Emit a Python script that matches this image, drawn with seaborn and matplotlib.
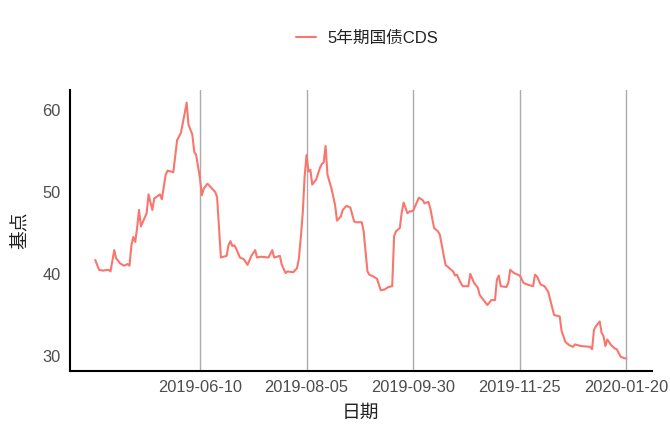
import matplotlib
matplotlib.use('Agg')
import matplotlib.pyplot as plt
import matplotlib.dates as mdates
import numpy as np
import pandas as pd
import seaborn as sns

# 5年期国债CDS (basis points)
dates = [
    '2019-04-16', '2019-04-18', '2019-04-20', '2019-04-23', '2019-04-24', '2019-04-26', '2019-04-27',
    '2019-04-29', '2019-05-01', '2019-05-03', '2019-05-04', '2019-05-05', '2019-05-06', '2019-05-07',
    '2019-05-08', '2019-05-09', '2019-05-10', '2019-05-13', '2019-05-14', '2019-05-16', '2019-05-17',
    '2019-05-20', '2019-05-21', '2019-05-23', '2019-05-24', '2019-05-27', '2019-05-29', '2019-05-31',
    '2019-06-02', '2019-06-03', '2019-06-04', '2019-06-06', '2019-06-07', '2019-06-08', '2019-06-10',
    '2019-06-11', '2019-06-12', '2019-06-14', '2019-06-18', '2019-06-19', '2019-06-21', '2019-06-24',
    '2019-06-25', '2019-06-26', '2019-06-27', '2019-06-28', '2019-06-29', '2019-07-01', '2019-07-03',
    '2019-07-05', '2019-07-07', '2019-07-09', '2019-07-10', '2019-07-12', '2019-07-16', '2019-07-18',
    '2019-07-19', '2019-07-22', '2019-07-23', '2019-07-25', '2019-07-26', '2019-07-29', '2019-07-31',
    '2019-08-01', '2019-08-02', '2019-08-03', '2019-08-04', '2019-08-05', '2019-08-06', '2019-08-07',
    '2019-08-08', '2019-08-10', '2019-08-12', '2019-08-13', '2019-08-14', '2019-08-15', '2019-08-16',
    '2019-08-18', '2019-08-20', '2019-08-21', '2019-08-23', '2019-08-24', '2019-08-26', '2019-08-28',
    '2019-08-30', '2019-08-31', '2019-09-03', '2019-09-04', '2019-09-06', '2019-09-07', '2019-09-09',
    '2019-09-11', '2019-09-13', '2019-09-15', '2019-09-17', '2019-09-19', '2019-09-20', '2019-09-21',
    '2019-09-23', '2019-09-24', '2019-09-25', '2019-09-27', '2019-09-28', '2019-09-30', '2019-10-03',
    '2019-10-05', '2019-10-06', '2019-10-08', '2019-10-09', '2019-10-11', '2019-10-13', '2019-10-14',
    '2019-10-17', '2019-10-19', '2019-10-21', '2019-10-22', '2019-10-23', '2019-10-25', '2019-10-26',
    '2019-10-29', '2019-10-30', '2019-11-01', '2019-11-03', '2019-11-04', '2019-11-08', '2019-11-10',
    '2019-11-12', '2019-11-13', '2019-11-14', '2019-11-15', '2019-11-18', '2019-11-19', '2019-11-20',
    '2019-11-22', '2019-11-25', '2019-11-27', '2019-11-29', '2019-12-02', '2019-12-03', '2019-12-04',
    '2019-12-06', '2019-12-08', '2019-12-10', '2019-12-13', '2019-12-16', '2019-12-17', '2019-12-19',
    '2019-12-21', '2019-12-23', '2019-12-24', '2019-12-27', '2020-01-01', '2020-01-02', '2020-01-03',
    '2020-01-04', '2020-01-06', '2020-01-07', '2020-01-08', '2020-01-09', '2020-01-10', '2020-01-12',
    '2020-01-14', '2020-01-15', '2020-01-17', '2020-01-19', '2020-01-20',
]
cds = [
    41.7, 40.5, 40.4, 40.5, 40.3, 42.9, 41.9,
    41.3, 41.0, 41.2, 41.0, 43.5, 44.5, 43.9,
    45.6, 47.8, 45.8, 47.4, 49.7, 47.8, 49.2,
    49.7, 49.1, 52.1, 52.6, 52.4, 56.3, 57.2,
    59.6, 60.9, 58.2, 57.0, 54.9, 54.5, 51.7,
    49.6, 50.4, 51.0, 50.0, 49.4, 42.0, 42.2,
    43.5, 44.0, 43.4, 43.5, 43.1, 42.0, 41.8,
    41.1, 42.2, 42.9, 42.0, 42.1, 42.0, 42.9,
    42.0, 42.2, 41.1, 40.1, 40.3, 40.2, 40.7,
    41.9, 44.5, 47.4, 51.9, 54.5, 52.5, 52.7,
    50.9, 51.5, 52.9, 53.4, 53.6, 55.6, 52.1,
    50.5, 48.4, 46.5, 47.0, 47.8, 48.3, 48.1,
    46.4, 46.3, 46.3, 45.2, 40.3, 39.9, 39.7,
    39.4, 38.0, 38.1, 38.4, 38.5, 44.6, 45.2,
    45.6, 47.5, 48.7, 47.4, 47.6, 47.7, 49.3,
    49.0, 48.6, 48.8, 48.0, 45.6, 45.2, 44.8,
    41.1, 40.7, 40.3, 39.8, 39.9, 38.9, 38.5,
    38.5, 40.0, 38.9, 38.3, 37.4, 36.2, 36.8,
    36.8, 39.3, 39.8, 38.5, 38.4, 38.9, 40.5,
    40.1, 39.8, 38.9, 38.7, 38.5, 39.9, 39.7,
    38.7, 38.5, 37.8, 35.0, 34.8, 33.0, 31.7,
    31.3, 31.1, 31.4, 31.2, 31.1, 30.8, 33.2,
    33.6, 34.2, 32.8, 32.4, 31.2, 32.0, 31.3,
    30.9, 30.8, 29.9, 29.7, 29.7,
]
x_ticks = ['2019-06-10', '2019-08-05', '2019-09-30', '2019-11-25', '2020-01-20']
series_name = '5年期国债CDS'

df = pd.DataFrame({'日期': pd.to_datetime(dates), '基点': cds})

sns.set_style('white')
plt.rcParams['font.family'] = ['Liberation Sans', 'Noto Sans CJK SC', 'DejaVu Sans']

fig = plt.figure(figsize=(6.7, 4.26), dpi=100)
ax = fig.add_axes([0.1045, 0.130, 0.868, 0.659])

sns.lineplot(data=df, x='日期', y='基点', color='#F8766D', linewidth=1.5,
             label=series_name, ax=ax)

ax.set_xlim(pd.Timestamp('2019-04-02 18:00'), pd.Timestamp('2020-02-02 06:00'))
ax.set_ylim(28.2, 62.45)
ax.set_xticks(pd.to_datetime(x_ticks))
ax.xaxis.set_major_formatter(mdates.DateFormatter('%Y-%m-%d'))
ax.set_yticks([30, 40, 50, 60])

# vertical grid only, at the date ticks
ax.grid(axis='x', color='#ababab', linewidth=1.0)
ax.grid(axis='y', visible=False)
ax.set_axisbelow(True)

for side in ['top', 'right']:
    ax.spines[side].set_visible(False)
for side in ['left', 'bottom']:
    ax.spines[side].set_color('black')
    ax.spines[side].set_linewidth(1.5)

ax.tick_params(axis='both', which='major', length=4, width=1.2, color='#333333',
               labelcolor='#4d4d4d', labelsize=11.8, direction='out', pad=2.5)

ax.set_xlabel('日期', fontsize=13.5, color='#222222', labelpad=7)
ax.set_ylabel('基点', fontsize=13.5, color='#222222', labelpad=10)

leg = ax.legend(loc='center', bbox_to_anchor=(0.548, 0.911), bbox_transform=fig.transFigure,
                frameon=False, fontsize=12, handlelength=1.2, handletextpad=0.7)
for t in leg.get_texts():
    t.set_color('#222222')

fig.savefig('out.png', dpi=100)
